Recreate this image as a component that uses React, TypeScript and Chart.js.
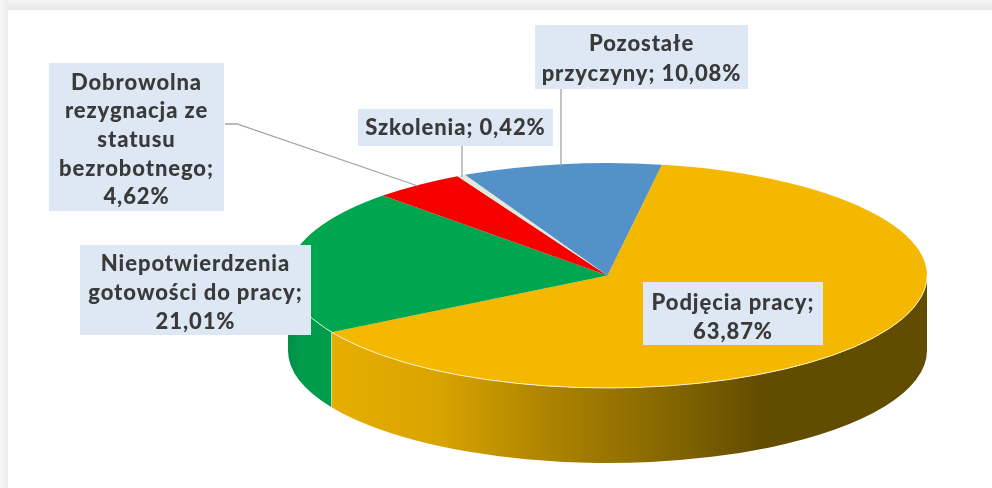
import React, { useEffect, useRef } from "react";
import { Chart, registerables } from "chart.js";

Chart.register(...registerables);

const categories = ["Podjęcia pracy", "Niepotwierdzenia gotowości do pracy", "Dobrowolna rezygnacja ze statusu bezrobotnego", "Szkolenia", "Pozostałe przyczyny"];
const values = [63.87, 21.01, 4.62, 0.42, 10.08];
const topColors = ["#f4b800", "#00a54f", "#f70000", "#e3e8dc", "#5591c9"];
const labelLines = [
  ["Podjęcia pracy;", "63,87%"],
  ["Niepotwierdzenia", "gotowości do pracy;", "21,01%"],
  ["Dobrowolna", "rezygnacja ze", "statusu", "bezrobotnego;", "4,62%"],
  ["Szkolenia; 0,42%"],
  ["Pozostałe", "przyczyny; 10,08%"],
];

// layout of the label boxes [x0, y0, x1, y1, line height, text offset]
const boxes = [
  [643, 282, 823, 345, 29, 3.5],
  [80, 245, 311, 335, 29, 2.5],
  [49, 63, 224, 211, 28.6, 3],
  [358, 109, 553, 146, 29, 0.5],
  [535, 25, 748, 89, 29.5, 2],
];
const leaders: number[][][] = [
  [],
  [],
  [[225, 124], [237, 124], [418, 186]],
  [[462, 146], [462, 177]],
  [[561, 89], [561, 166]],
];

const CX = 607.5;
const CY = 275.5;
const RX = 319.5;
const SQUASH = 0.352;
const DEPTH = 75;

const depthPlugin = {
  id: "depth",
  beforeDraw(chart: any) {
    const ctx = chart.ctx;
    ctx.save();
    ctx.fillStyle = "#ffffff";
    ctx.fillRect(0, 0, 992, 488);
    const left = ctx.createLinearGradient(0, 0, 8, 0);
    left.addColorStop(0, "#f8f8f8");
    left.addColorStop(1, "#ececec");
    ctx.fillStyle = left;
    ctx.fillRect(0, 0, 8, 488);
    const top = ctx.createLinearGradient(0, 0, 0, 10);
    top.addColorStop(0, "#f5f5f5");
    top.addColorStop(1, "#e8e8e8");
    ctx.fillStyle = top;
    ctx.fillRect(8, 0, 984, 10);
    ctx.restore();
  },
  beforeDatasetsDraw(chart: any) {
    const ctx = chart.ctx;
    const arcs = chart.getDatasetMeta(0).data;
    const ry = RX * SQUASH;
    ctx.save();
    arcs.forEach((arc: any, i: number) => {
      const a0 = Math.max(arc.startAngle, 0);
      const a1 = Math.min(arc.endAngle, Math.PI);
      if (a1 <= a0) return;
      ctx.beginPath();
      ctx.ellipse(arc.x, CY, RX, ry, 0, a0, a1);
      ctx.ellipse(arc.x, CY + DEPTH, RX, ry, 0, a1, a0, true);
      ctx.closePath();
      if (i === 0) {
        const g = ctx.createLinearGradient(330, 0, 762, 0);
        g.addColorStop(0, "#e6ae00");
        g.addColorStop(0.25, "#d9a400");
        g.addColorStop(0.5, "#ae8400");
        g.addColorStop(0.75, "#8a6a00");
        g.addColorStop(1, "#624c00");
        ctx.fillStyle = g;
      } else {
        const g = ctx.createLinearGradient(288, 0, 302, 0);
        g.addColorStop(0, "#008f45");
        g.addColorStop(1, "#009c4b");
        ctx.fillStyle = g;
      }
      ctx.fill();
    });
    // vertical seam between the two front walls
    const seam = arcs[0].endAngle;
    const sx = arcs[0].x + RX * Math.cos(seam);
    const sy = CY + ry * Math.sin(seam);
    ctx.strokeStyle = "rgba(225,240,225,0.7)";
    ctx.lineWidth = 1;
    ctx.beginPath();
    ctx.moveTo(sx, sy);
    ctx.lineTo(sx, sy + DEPTH);
    ctx.stroke();
    ctx.restore();
  },
  beforeDatasetDraw(chart: any) {
    const ctx = chart.ctx;
    ctx.save();
    ctx.translate(CX, CY);
    ctx.scale(1, SQUASH);
    ctx.translate(-CX, -CY);
  },
  afterDatasetDraw(chart: any) {
    chart.ctx.restore();
  },
  afterDatasetsDraw(chart: any) {
    const ctx = chart.ctx;
    const ry = RX * SQUASH;
    ctx.save();
    // pale rim along the front edge of the top face
    ctx.strokeStyle = "rgba(255,250,225,0.85)";
    ctx.lineWidth = 1;
    ctx.beginPath();
    ctx.ellipse(CX, CY, RX, ry, 0, 0, Math.PI);
    ctx.stroke();
    // leader lines
    ctx.strokeStyle = "#a3a3a3";
    ctx.lineWidth = 1.3;
    leaders.forEach((pts) => {
      if (!pts.length) return;
      ctx.beginPath();
      pts.forEach((p, i) => (i ? ctx.lineTo(p[0], p[1]) : ctx.moveTo(p[0], p[1])));
      ctx.stroke();
    });
    // label boxes and text
    labelLines.forEach((lines, i) => {
      const [x0, y0, x1, y1, lh, dy] = boxes[i];
      ctx.fillStyle = "#dde8f4";
      ctx.fillRect(x0, y0, x1 - x0, y1 - y0);
      ctx.save();
      ctx.fillStyle = "#3a3a3a";
      ctx.font = "900 22px Lato";
      (ctx as any).letterSpacing = "0.9px";
      ctx.filter = "blur(0.6px)";
      ctx.textAlign = "center";
      ctx.textBaseline = "middle";
      const cx = (x0 + x1) / 2;
      const cy = (y0 + y1) / 2 + dy;
      lines.forEach((t, j) => {
        ctx.fillText(t, cx, cy + (j - (lines.length - 1) / 2) * lh);
      });
      ctx.restore();
    });
    ctx.restore();
  },
};

export default function App() {
  const ref = useRef<HTMLCanvasElement>(null);
  useEffect(() => {
    const chart = new Chart(ref.current!, {
      type: "pie",
      data: {
        labels: categories,
        datasets: [
          {
            data: values,
            backgroundColor: topColors,
            borderWidth: 0,
            clip: false,
          } as any,
        ],
      },
      options: {
        responsive: false,
        animation: false,
        rotation: 9.8,
        radius: RX,
        layout: { padding: { left: 223, right: 0, top: 63, bottom: 0 } },
        plugins: { legend: { display: false }, tooltip: { enabled: false } },
      } as any,
      plugins: [depthPlugin],
    });
    return () => chart.destroy();
  }, []);
  return (
    <canvas
      ref={ref}
      width={992}
      height={488}
      style={{ position: "fixed", left: 0, top: 0, width: 992, height: 488, display: "block" }}
    />
  );
}
